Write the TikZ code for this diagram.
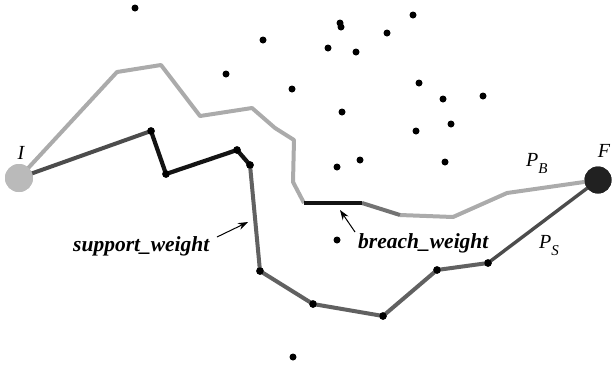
\documentclass[tikz,border=0pt]{standalone}
\usepackage{fontspec}
\setmainfont{Liberation Serif}
\usetikzlibrary{arrows.meta}
\tikzset{
  pt/.style={circle,fill=black,inner sep=0pt,minimum size=7pt},
  vx/.style={circle,fill=black,inner sep=0pt,minimum size=7.5pt},
  gpath/.style={draw=black!33,line width=4pt,line join=round},
  spath/.style={draw=black!62,line width=4pt,line join=round},
  kpath/.style={draw=black!92,line width=4.2pt,line join=round},
  lbl/.style={font=\fontsize{21.5}{21.5}\selectfont\bfseries\itshape,inner sep=0pt},
  plbl/.style={font=\fontsize{20}{20}\selectfont\itshape,inner sep=0pt},
  arr/.style={draw=black,line width=1pt,-{Stealth[length=10pt,width=7pt]}}
}
\newcommand{\subl}[1]{\raisebox{-7pt}{\fontsize{15}{15}\selectfont #1}}
\begin{document}
\begin{tikzpicture}[x=1pt,y=-1pt]
\useasboundingbox (0,0) rectangle (613,368);
% scattered points
\foreach \n/\x/\y in {a/135/8,b/263/40,c/340/23,d/341/27,e/413/15,f/387/33,g/328/48,h/356/52,i/226/74,j/292/89,k/419/83,l/443/99,m/483/96,n/342/112,o/451/124,p/416/131,q/337/167,r/360/160,s/445/162,t/337/240,u/293/357}
  \node[pt] (d\n) at (\x,\y) {};
% breach path coordinates
\foreach \n/\x/\y in {1/117/72,2/161/65,3/200/116,4/252/108,5/275/128,6/294/140,7/293/182,8/304/203,9/362/203,10/400/215,11/453/217,12/507/193}
  \coordinate (b\n) at (\x,\y);
% end nodes
\node[circle,fill=black!27,inner sep=0pt,minimum size=28pt] (I) at (19,178) {};
\node[circle,fill=black!87,inner sep=0pt,minimum size=27pt] (F) at (598,180) {};
% breach path
\draw[gpath] (I.center) -- (b1) -- (b2) -- (b3) -- (b4) -- (b5) -- (b6) -- (b7) -- (b8);
\draw[gpath] (b10) -- (b11) -- (b12) -- (F.center);
\draw[draw=black!55,line width=4pt] (b9) -- (b10);
\draw[kpath] (b8) -- (b9);
% support path vertices
\foreach \n/\x/\y in {1/151/131,2/166/174,3/237/150,4/250/165,5/260/271,6/313/304,7/383/316,8/437/270,9/488/263}
  \node[vx] (s\n) at (\x,\y) {};
\draw[draw=black!70,line width=4pt] (I.center) -- (s1.center);
\draw[kpath] (s1.center) -- (s2.center) -- (s3.center) -- (s4.center);
\draw[spath] (s4.center) -- (s5.center) -- (s6.center) -- (s7.center) -- (s8.center) -- (s9.center);
\draw[draw=black!70,line width=3.4pt] (s9.center) -- (F.center);
% redraw vertex dots on top
\foreach \n in {1,...,9}
  \fill (s\n) circle (3.7pt);
\fill[black!27] (I) circle (14pt);
\fill[black!87] (F) circle (13.5pt);
% labels
\node[plbl] (lI) at (21,153) {I};
\node[plbl] (lF) at (604,151) {F};
\node[plbl,anchor=base west] (lPB) at (526,166) {P\subl{B}};
\node[plbl,anchor=base west] (lPS) at (539,248) {P\subl{S}};
\node[lbl,anchor=base west] (sw) at (73,251) {support\_weight};
\node[lbl,anchor=base west] (bw) at (358,248) {breach\_weight};
% arrows
\coordinate (swt) at (217,237);
\coordinate (swh) at (248,222);
\coordinate (bwt) at (355,232);
\coordinate (bwh) at (340,210);
\draw[arr] (swt) -- (swh);
\draw[arr] (bwt) -- (bwh);
\end{tikzpicture}
\end{document}
